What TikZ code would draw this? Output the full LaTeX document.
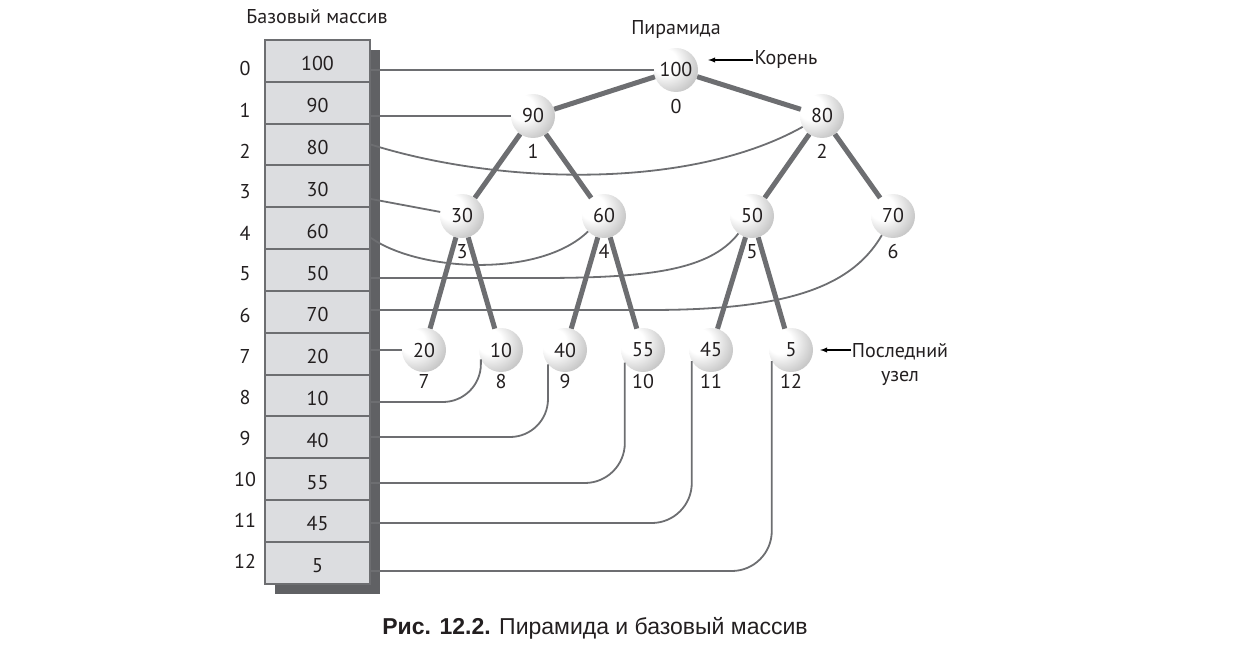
\documentclass[tikz,border=0pt]{standalone}
\usepackage{fontspec}
\setmainfont{PT Sans}
\newfontfamily\capfont{Liberation Sans}
\usetikzlibrary{calc}

\definecolor{linegray}{HTML}{6D6E71}
\definecolor{shadowgray}{HTML}{606164}
\definecolor{cellgray}{HTML}{DCDDE0}
\definecolor{inkblack}{HTML}{231F20}
\pgfdeclareradialshading{sphere}{\pgfpoint{-16bp}{12bp}}{color(0bp)=(white); color(14bp)=(white); color(40bp)=(black!28); color(58bp)=(black!50); color(75bp)=(black!55)}

\begin{document}
\begin{tikzpicture}[x=1pt,y=-1pt,
	every node/.style={font=\fontsize{20}{24}\selectfont, text=inkblack},
	cell/.style={draw=linegray, line width=2, fill=cellgray, minimum width=105, minimum height=41.8, inner sep=0, text height=20, text depth=0},
	ball/.style={circle, minimum size=44, inner sep=0, shading=sphere},
	tree/.style={draw=linegray, line width=5},
	link/.style={draw=linegray, line width=1.8}]
	\useasboundingbox (0,0) rectangle (1237,663);

	% base array
	\node at (317,17)(arraytitle){Базовый массив};
	\node[fill=shadowgray, minimum width=105, minimum height=544, inner sep=0] at (327.5,322)(shadow){};
	\foreach \v [count=\i from 0] in {100,90,80,30,60,50,70,20,10,40,55,45,5}{
		\node[cell] at (317.5,{61+41.8*\i})(a\i){\v};
		\node at (245,{69+41*\i})(i\i){\i};
	}

	% heap
	\node at (676,30)(heaptitle){Пирамида};
	\node[ball, label={[label distance=4]below:0}] at (676,70)(n0){100};
	\node[ball, label={[label distance=3]below:1}] at (533,116)(n1){90};
	\node[ball, label={[label distance=3]below:2}] at (822,116)(n2){80};
	\node[ball, label={[label distance=3]below:3}] at (462,216)(n3){30};
	\node[ball, label={[label distance=3]below:4}] at (604,216)(n4){60};
	\node[ball, label={[label distance=3]below:5}] at (752,216)(n5){50};
	\node[ball, label={[label distance=3]below:6}] at (893,216)(n6){70};
	\node[ball, label={[label distance=-1]below:7}] at (424,350)(n7){20};
	\node[ball, label={[label distance=-1]below:8}] at (501,350)(n8){10};
	\node[ball, label={[label distance=-1]below:9}] at (565,350)(n9){40};
	\node[ball, label={[label distance=-1]below:10}] at (643,350)(n10){55};
	\node[ball, label={[label distance=-1]below:11}] at (711,350)(n11){45};
	\node[ball, label={[label distance=-1]below:12}] at (791,350)(n12){5};
	\path[tree] (n0)edge(n1)(n0)edge(n2)(n1)edge(n3)(n1)edge(n4)(n2)edge(n5)(n2)edge(n6)
		(n3)edge(n7)(n3)edge(n8)(n4)edge(n9)(n4)edge(n10)(n5)edge(n11)(n5)edge(n12);

	% array -> heap
	\draw[link] (a0.east |- n0) -- (n0);
	\draw[link] (a1.east |- n1) -- (n1);
	\draw[link] (a2.east) .. controls (500,185) and (690,190) .. (n2);
	\draw[link] (a3.east |- 0,199) -- (n3);
	\draw[link] (a4.east |- 0,238) .. controls (420,272) and (540,278) .. (n4);
	\draw[link] (a5.east |- 0,278) -- (540,278) .. controls (650,278) and (710,270) .. (n5);
	\draw[link] (a6.east |- 0,310) -- (650,310) .. controls (780,310) and (850,290) .. (n6);
	\draw[link] (a7.east |- n7) -- (n7);
	\draw[link, rounded corners=38] (a8.east |- 0,402) -| (n8.205);
	\draw[link, rounded corners=38] (a9.east |- 0,437) -| (n9.220);
	\draw[link, rounded corners=40] (a10.east |- 0,483) -| (n10.215);
	\draw[link, rounded corners=40] (a11.east |- 0,523) -| (n11.210);
	\draw[link, rounded corners=40] (a12.east |- 0,571) -| (n12.210);

	% notes
	\node[inner sep=1] at (786,60)(root){Корень};
	\path[-latex, line width=1.4] (root.west) edge[shorten >=10] (n0.east |- root);
	\node[align=center, inner sep=1] at (900,365)(last){Последний\\узел};
	\path[-latex, line width=1.4] (last.west |- n12) edge[shorten >=7] (n12.east);

	\node at (595,628)(caption){\capfont\fontsize{23}{26}\selectfont\textbf{Рис. 12.2.} Пирамида и базовый массив};
\end{tikzpicture}
\end{document}
